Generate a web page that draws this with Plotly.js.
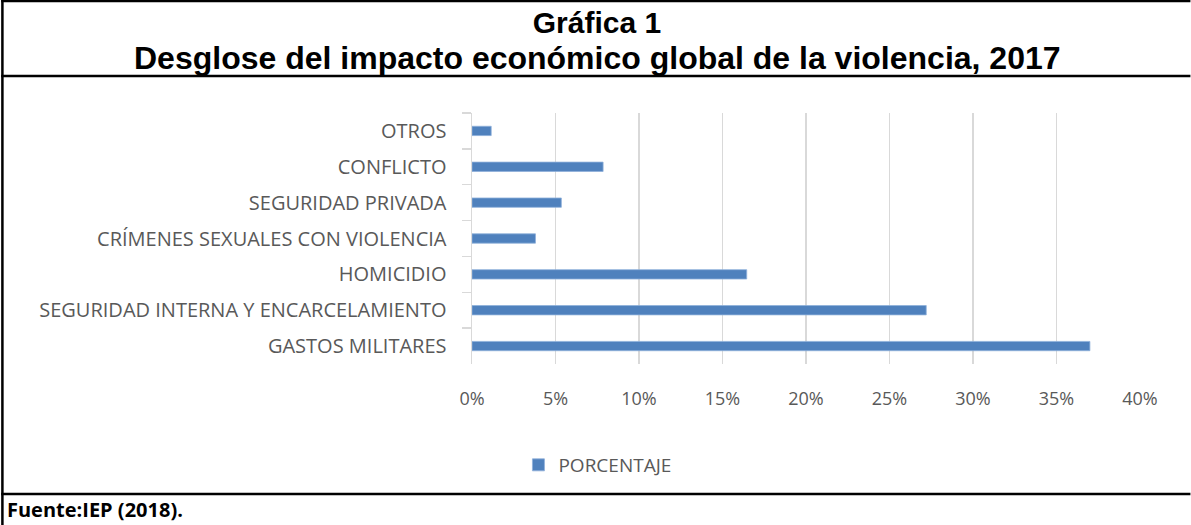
<!DOCTYPE html>
<html>
<head>
<meta charset="utf-8">
<script src="https://cdn.plot.ly/plotly-3.0.1.min.js"></script>
<style>html,body{margin:0;padding:0;background:#fff;}#chart{width:1191px;height:525px;}</style>
</head>
<body>
<div id="chart"></div>
<script>
// Data (top-to-bottom order as shown)
const categories = ["OTROS", "CONFLICTO", "SEGURIDAD PRIVADA", "CRÍMENES SEXUALES CON VIOLENCIA", "HOMICIDIO", "SEGURIDAD INTERNA Y ENCARCELAMIENTO", "GASTOS MILITARES"];
const porcentaje = [1.15, 7.85, 5.35, 3.8, 16.45, 27.2, 37.0];
const xTickValues = [0, 5, 10, 15, 20, 25, 30, 35, 40];
const xTickLabels = ["0%", "5%", "10%", "15%", "20%", "25%", "30%", "35%", "40%"];
const seriesName = "PORCENTAJE";
const titleLine1 = "Gráfica 1";
const titleLine2 = "Desglose del impacto económico global de la violencia, 2017";
const sourceText = "Fuente:IEP (2018).";

const W = 1191, H = 525;
const L = 471.5, R = 1140.5, T = 113, B = 364;
const px = x => (x - L) / (R - L);
const py = y => (B - y) / (B - T);

const labelFont = {family: "Open Sans, sans-serif", size: 20, color: "#595959"};
const xLabelFont = {family: "Open Sans, sans-serif", size: 18, color: "#595959"};

const trace = {
  type: "bar",
  orientation: "h",
  y: categories,
  x: porcentaje,
  name: seriesName,
  marker: {color: "#4F81BD", line: {color: "#8EB0DA", width: 0.8}},
  hoverinfo: "x+y"
};

const lineStyle = {color: "#000", width: 2.5};
const layout = {
  width: W, height: H,
  paper_bgcolor: "#fff", plot_bgcolor: "#fff",
  margin: {l: L, r: W - R, t: T, b: H - B, pad: 0},
  bargap: 0.74,
  showlegend: true,
  legend: {orientation: "h", x: px(518), xanchor: "left", y: py(465), yanchor: "middle",
           font: {family: "Open Sans, sans-serif", size: 19, color: "#595959"}, itemwidth: 30},
  title: {text: "<b>" + titleLine1 + "</b>",
          font: {family: "Liberation Sans, Arial, sans-serif", size: 30, color: "#000"},
          x: 597 / W, xref: "container", xanchor: "center",
          y: 1 - 22 / H, yref: "container", yanchor: "middle"},
  xaxis: {range: [0, 40], tickvals: xTickValues, ticktext: xTickLabels,
          showgrid: true, gridcolor: "#D9D9D9", gridwidth: 1.5,
          zeroline: false, showline: false, ticks: "",
          tickfont: xLabelFont, ticklabelstandoff: 22, fixedrange: true},
  yaxis: {type: "category", autorange: "reversed",
          showline: true, linecolor: "#D9D9D9", linewidth: 1.5,
          ticks: "outside", tickson: "boundaries", ticklen: 9, tickcolor: "#D9D9D9", tickwidth: 1.5,
          showgrid: false, zeroline: false,
          tickfont: labelFont, ticklabelstandoff: 20, fixedrange: true},
  shapes: [
    {type: "line", xref: "paper", yref: "paper", x0: px(0), x1: px(W), y0: py(1), y1: py(1), line: lineStyle},
    {type: "line", xref: "paper", yref: "paper", x0: px(0), x1: px(W), y0: py(76), y1: py(76), line: lineStyle},
    {type: "line", xref: "paper", yref: "paper", x0: px(0), x1: px(W), y0: py(494), y1: py(494), line: lineStyle},
    {type: "line", xref: "paper", yref: "paper", x0: px(1.2), x1: px(1.2), y0: py(0), y1: py(H), line: lineStyle}
  ],
  annotations: [
    {text: "<b>" + titleLine2 + "</b>", xref: "paper", yref: "paper", x: px(597), y: py(58),
     xanchor: "center", yanchor: "middle", showarrow: false,
     font: {family: "Liberation Sans, Arial, sans-serif", size: 32, color: "#000"}},
    {text: "<b>" + sourceText + "</b>", xref: "paper", yref: "paper", x: px(4), y: py(509),
     xanchor: "left", yanchor: "middle", showarrow: false,
     font: {family: "Open Sans, Liberation Sans, sans-serif", size: 20, color: "#000"}}
  ]
};

Plotly.newPlot("chart", [trace], layout, {displayModeBar: false, staticPlot: true});
</script>
</body>
</html>
